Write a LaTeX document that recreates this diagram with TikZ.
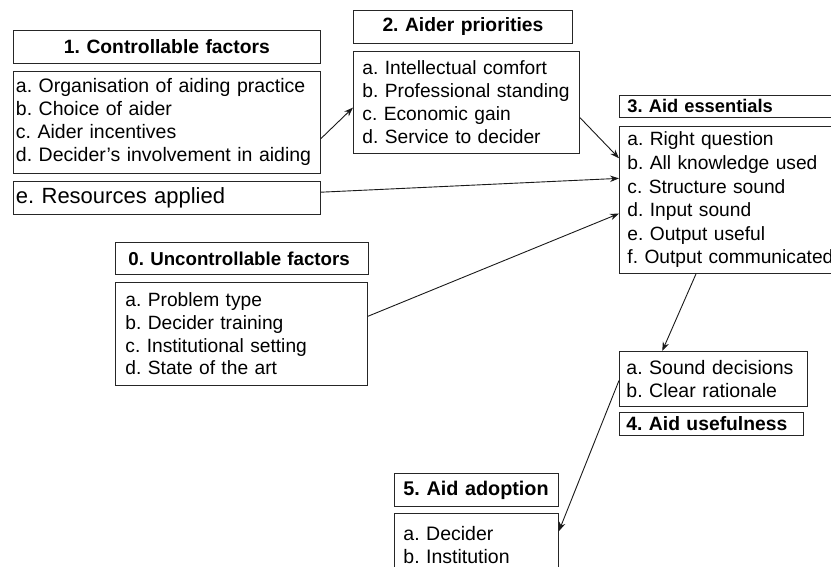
\documentclass[tikz,border=0pt]{standalone}
\usepackage{fontspec}
\setmainfont{Liberation Sans}
\usetikzlibrary{calc,arrows.meta}
\frenchspacing
\begin{document}
\begin{tikzpicture}[x=1pt,y=-1pt,
  box/.style={draw=black!85, line width=0.9pt, anchor=north west, inner ysep=0pt,
    align=left, font=\fontsize{19.5}{23}\selectfont,
    execute at begin node={\frenchspacing\hyphenpenalty=10000}},
  head/.style={box, font=\bfseries\fontsize{19.3}{22}\selectfont},
  link/.style={line width=0.9pt, draw=black!90, -{Stealth[length=9pt,width=6.5pt]}}
]
\useasboundingbox (0,0) rectangle (831,566);
\clip (0,0) rectangle (831,566);

% 1. Controllable factors
\node[head, align=center, inner xsep=4pt, text width=299pt, minimum height=33pt] (t1) at (13,30) {1. Controllable factors};
\node[box, inner xsep=2.5pt, text width=302pt, minimum height=102pt] (l1) at (13,71)
  {a. Organisation of aiding practice\\b. Choice of aider\\c. Aider incentives\\d. Decider's involvement in aiding};
\node[box, inner xsep=2.5pt, text width=302pt, minimum height=33pt, font=\fontsize{22}{26}\selectfont] (e1) at (13,181) {e. Resources applied};

% 2. Aider priorities
\node[head, align=center, inner xsep=4pt, text width=211pt, minimum height=33pt] (t2) at (353,10) {2. Aider priorities};
\node[box, inner xsep=9pt, text width=208pt, minimum height=102pt, font=\fontsize{19.2}{23}\selectfont] (l2) at (353,51)
  {a. Intellectual comfort\\b. Professional standing\\c. Economic gain\\d. Service to decider};

% 3. Aid essentials
\node[head, inner xsep=8pt, text width=215pt, minimum height=22pt, font=\bfseries\fontsize{18.3}{21}\selectfont] (t3) at (619,95) {3. Aid essentials};
\node[box, inner xsep=8pt, text width=215pt, minimum height=147pt, font=\fontsize{19.2}{23.6}\selectfont] (l3) at (619,126)
  {a. Right question\\b. All knowledge used\\c. Structure sound\\d. Input sound\\e. Output useful\\f. Output communicated};

% 0. Uncontrollable factors
\node[head, inner xsep=13pt, text width=227pt, minimum height=32pt, font=\bfseries\fontsize{18.7}{22}\selectfont] (t0) at (115,242) {0. Uncontrollable factors};
\node[box, inner xsep=10pt, text width=232pt, minimum height=103pt, font=\fontsize{19.2}{22.7}\selectfont] (l0) at (115,282)
  {a. Problem type\\b. Decider training\\c. Institutional setting\\d. State of the art};

% 4. Aid usefulness
\node[box, inner xsep=7pt, text width=174pt, minimum height=55pt] (l4) at (619,351)
  {a. Sound decisions\\b. Clear rationale};
\node[head, inner xsep=7pt, text width=170pt, minimum height=23pt] (t4) at (619,412) {4. Aid usefulness};

% 5. Aid adoption
\node[head, inner xsep=9pt, text width=146pt, minimum height=33pt, font=\bfseries\fontsize{19.8}{23}\selectfont] (t5) at (394,473) {5. Aid adoption};
\node[box, inner xsep=9pt, text width=146pt, minimum height=64pt] (l5) at (394,513)
  {a. Decider\\b. Institution};

% connectors
\draw[link] ($(l1.north east)!0.657!(l1.south east)$) -- ($(l2.north west)!0.55!(l2.south west)$);
\draw[link] ($(l2.north east)!0.647!(l2.south east)$) -- ($(l3.north west)!0.218!(l3.south west)$);
\draw[link] ($(e1.north east)!0.33!(e1.south east)$) -- ($(l3.north west)!0.354!(l3.south west)$);
\draw[link] ($(l0.north east)!0.33!(l0.south east)$) -- ($(l3.north west)!0.592!(l3.south west)$);
\draw[link] ($(l3.south west)+(77,0)$) -- ($(l4.north west)!0.229!(l4.north east)$);
\draw[link] ($(l4.north west)!0.527!(l4.south west)$) -- ($(l5.north east)!0.28!(l5.south east)$);
\end{tikzpicture}
\end{document}
